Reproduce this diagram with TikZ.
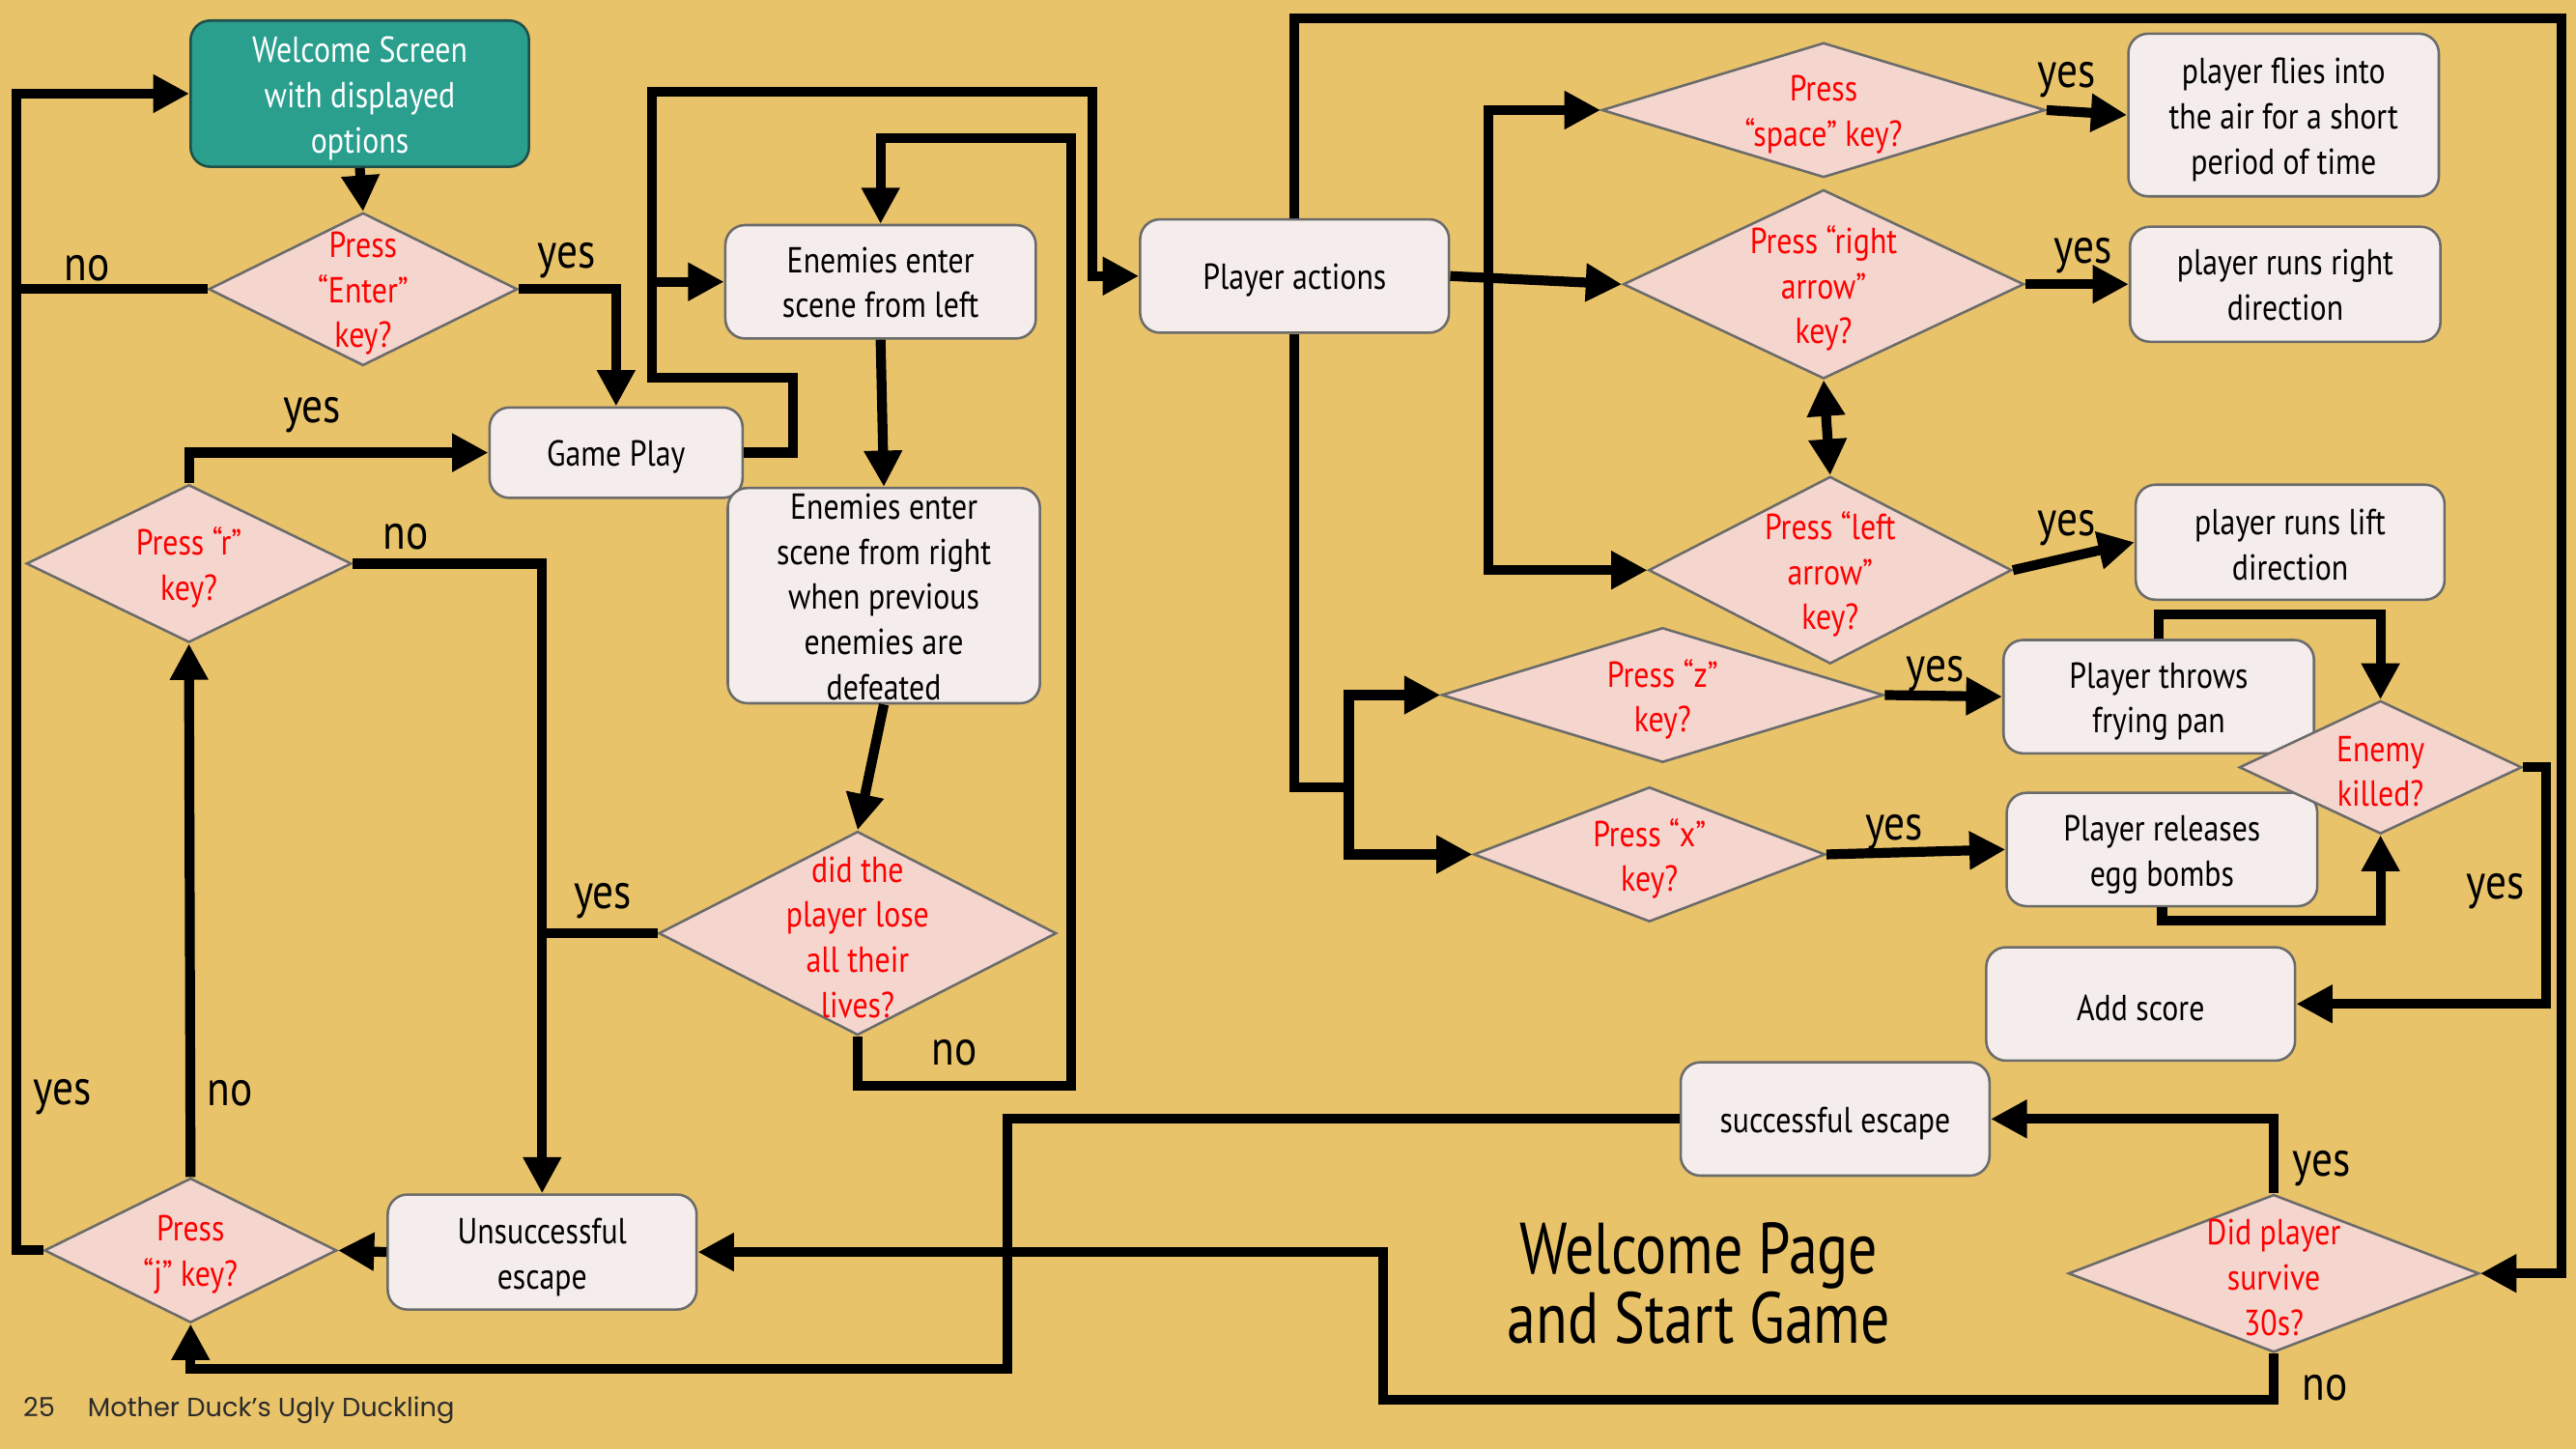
\documentclass[tikz,border=0pt]{standalone}
\usepackage{fontspec}
\newfontfamily\condfont{PT Sans}[FakeStretch=0.85]
\newfontfamily\titlefont{PT Sans}[FakeStretch=0.8]
\newfontfamily\footfont{Poppins}
\usepackage{tikz}
\usetikzlibrary{arrows.meta}
\usetikzlibrary{shapes.geometric}
\usetikzlibrary{calc}

\definecolor{bgyellow}{HTML}{E8C36A}
\definecolor{tealfill}{HTML}{2A9F8E}
\definecolor{tealedge}{HTML}{1F4F49}
\definecolor{pinkfill}{HTML}{F4D6CE}
\definecolor{boxfill}{HTML}{F4EDEB}
\definecolor{edgegray}{HTML}{6B6B6B}
\definecolor{keyred}{HTML}{FF0000}
\definecolor{footgray}{HTML}{2B2B2B}

\tikzset{
  process/.style={draw=edgegray, fill=boxfill, line width=1.5pt, rounded corners=12pt,
    align=center, inner sep=0pt, font=\condfont\fontsize{22}{27.5}\selectfont,
    text height=21pt},
  twoline/.style={text height=49pt},
  threeline/.style={text height=76.5pt},
  decision/.style={diamond, draw=edgegray, fill=pinkfill, line width=1.5pt, inner sep=0pt},
  dtext/.style={text=keyred, align=center, inner sep=0pt, yshift=-2.5pt,
    font=\condfont\fontsize{22}{27.5}\selectfont},
  answer/.style={anchor=base, inner sep=0pt, font=\condfont\fontsize{30}{30}\selectfont},
  link/.style={line width=6pt},
  flow/.style={link, ->},
}

\begin{document}
\begin{tikzpicture}[x=1pt, y=-1pt, >={Triangle[length=22pt,width=22pt]}]

    \fill[bgyellow] (0,0) rectangle (1568,882);
    \useasboundingbox (0,0) rectangle (1568,882);

    \node[process, threeline, fill=tealfill, draw=tealedge, text=white, minimum width=206pt, minimum height=89pt]
      (welcome) at (219,57) {Welcome Screen\\with displayed\\options};
    \node[decision, minimum width=188pt, minimum height=93pt,
      label={[dtext]center:Press\\“Enter”\\key?}] (enter) at (221,176) {};
    \node[process, minimum width=154pt, minimum height=55pt] (gameplay) at (375,275.5) {Game Play};
    \node[decision, minimum width=198pt, minimum height=96pt,
      label={[dtext]center:Press “r”\\key?}] (rkey) at (115,343) {};
    \node[process, text height=44pt, minimum width=189pt, minimum height=69pt] (enleft) at (536,171.5) {Enemies enter\\scene from left};
    \node[process, text height=127pt, minimum width=190pt, minimum height=131pt] (enright) at (538,362.5)
      {Enemies enter\\scene from right\\when previous\\enemies are\\defeated};
    \node[decision, minimum width=242pt, minimum height=124pt,
      label={[dtext]center:did the\\player lose\\all their\\lives?}] (lose) at (522,568) {};
    \node[process, twoline, minimum width=188pt, minimum height=70pt] (unsucc) at (330,762) {Unsuccessful\\escape};
    \node[decision, minimum width=178pt, minimum height=88pt,
      label={[dtext]center:Press\\“j” key?}] (jkey) at (116,761) {};

    \node[process, minimum width=188pt, minimum height=69pt] (actions) at (788,168) {Player actions};
    \node[decision, minimum width=270pt, minimum height=82pt,
      label={[dtext]center:Press\\“space” key?}] (space) at (1110,67) {};
    \node[decision, minimum width=244pt, minimum height=115pt,
      label={[dtext]center:Press “right\\arrow”\\key?}] (rightkey) at (1110,173) {};
    \node[decision, minimum width=221pt, minimum height=114pt,
      label={[dtext]center:Press “left\\arrow”\\key?}] (leftkey) at (1114,347) {};
    \node[decision, minimum width=269pt, minimum height=82pt,
      label={[dtext]center:Press “z”\\key?}] (zkey) at (1012,423) {};
    \node[decision, minimum width=214pt, minimum height=82pt,
      label={[dtext]center:Press “x”\\key?}] (xkey) at (1004,520) {};
    \node[process, threeline, minimum width=189pt, minimum height=99pt] (flies) at (1390,70)
      {player flies into\\the air for a short\\period of time};
    \node[process, text height=44pt, minimum width=189pt, minimum height=70pt] (runright) at (1391,173) {player runs right\\direction};
    \node[process, text height=46pt, minimum width=188pt, minimum height=70pt] (runleft) at (1394,330) {player runs lift\\direction};
    \node[process, twoline, minimum width=189pt, minimum height=69pt] (throws) at (1314,424) {Player throws\\frying pan};
    \node[process, twoline, minimum width=189pt, minimum height=69pt] (releases) at (1316,517) {Player releases\\egg bombs};
    \node[decision, minimum width=172pt, minimum height=81pt,
      label={[dtext]center:Enemy\\killed?}] (killed) at (1449,467) {};
    \node[process, minimum width=188pt, minimum height=69pt] (score) at (1303,611) {Add score};
    \node[process, minimum width=188pt, minimum height=69pt] (success) at (1117,681) {successful escape};
    \node[decision, minimum width=250pt, minimum height=96pt,
      label={[dtext]center:Did player\\survive\\30s?}] (survive) at (1384,775) {};

    \node[align=center, font=\titlefont\fontsize{44}{42}\selectfont] (title) at (1034,781)
      {Welcome Page\\and Start Game};
    \node[anchor=base west, inner sep=0pt, text=footgray, font=\footfont\fontsize{16}{16}\selectfont]
      (footer) at (14,862) {25\hspace{20pt}Mother Duck’s Ugly Duckling};

    \coordinate (lefttop) at (10,57);
    \coordinate (gpjoin) at (397,230);
    \coordinate (actjoin) at (665,56);
    \coordinate (loseloop) at (652,84);
    \coordinate (succjoin) at (613,833);
    \coordinate (nojoin) at (842,852);
    \coordinate (outer) at (1559,11);
    \coordinate (zxjoin) at (821,479);
    \coordinate (keysplit) at (906,168);

    \draw[flow] (welcome.south) -- (enter.north);
    \draw[link] (enter.west) -- (enter.west -| lefttop);
    \draw[flow] (enter.east) -| (gameplay.north);
    \draw[flow] (rkey.north) |- (gameplay.west);
    \draw[flow] (rkey.east) -| (unsucc.north);
    \draw[link] (lose.west) -- (lose.west -| unsucc.north);
    \draw[flow] (gameplay.east) -- ++(30,0) |- (gpjoin) |- (enleft.west);
    \draw[flow] (gpjoin |- enleft.west) |- (actjoin) |- (actions.west);
    \draw[flow] (enleft.south) -- (enright.north);
    \draw[flow] (enright.south) -- (lose.north);
    \draw[flow] (lose.south) -- ++(0,30) -| (loseloop) -| (enleft.north);
    \draw[flow] (jkey.west) -- (jkey.west -| lefttop) |- (welcome.west);
    \draw[flow] (jkey.north) -- (rkey.south);
    \draw[flow] (unsucc.west) -- (jkey.east);
    \draw[flow] (success.west) -| (succjoin) -| (jkey.south);
    \draw[flow] (survive.south) |- (nojoin) |- (unsucc.east);
    \draw[flow] (survive.north) |- (success.east);
    \draw[flow] (actions.north) |- (outer) |- (survive.east);
    \draw[link] (actions.south) |- (zxjoin);
    \draw[flow] (zxjoin) |- (zkey.west);
    \draw[flow] (zxjoin) |- (xkey.west);
    \draw[flow] (actions.east) -- (rightkey.west);
    \draw[flow] (keysplit) |- (space.west);
    \draw[flow] (keysplit) |- (leftkey.west);
    \draw[link, <->] (rightkey.south) -- (leftkey.north);
    \draw[flow] (space.east) -- (flies.west);
    \draw[flow] (rightkey.east) -- (runright.west);
    \draw[flow] (leftkey.east) -- (runleft.west);
    \draw[flow] (zkey.east) -- (throws.west);
    \draw[flow] (xkey.east) -- (releases.west);
    \draw[flow] (throws.north) -- ++(0,-15) -| (killed.north);
    \draw[flow] (releases.south) -- ++(0,8) -| (killed.south);
    \draw[flow] (killed.east) -- ++(14,0) |- (score.east);

    \foreach \t/\x/\y [count=\i] in {no/53/171, yes/345/163, yes/190/257, no/247/334,
      yes/367/553, no/581/648, yes/38/672, no/140/673, yes/1258/53, yes/1268/160,
      yes/1258/326, yes/1178/415, yes/1153/511, yes/1519/547, yes/1413/716, no/1415/852} {
      \node[answer] (answer\i) at (\x,\y) {\t};
    }

  \end{tikzpicture}
\end{document}
